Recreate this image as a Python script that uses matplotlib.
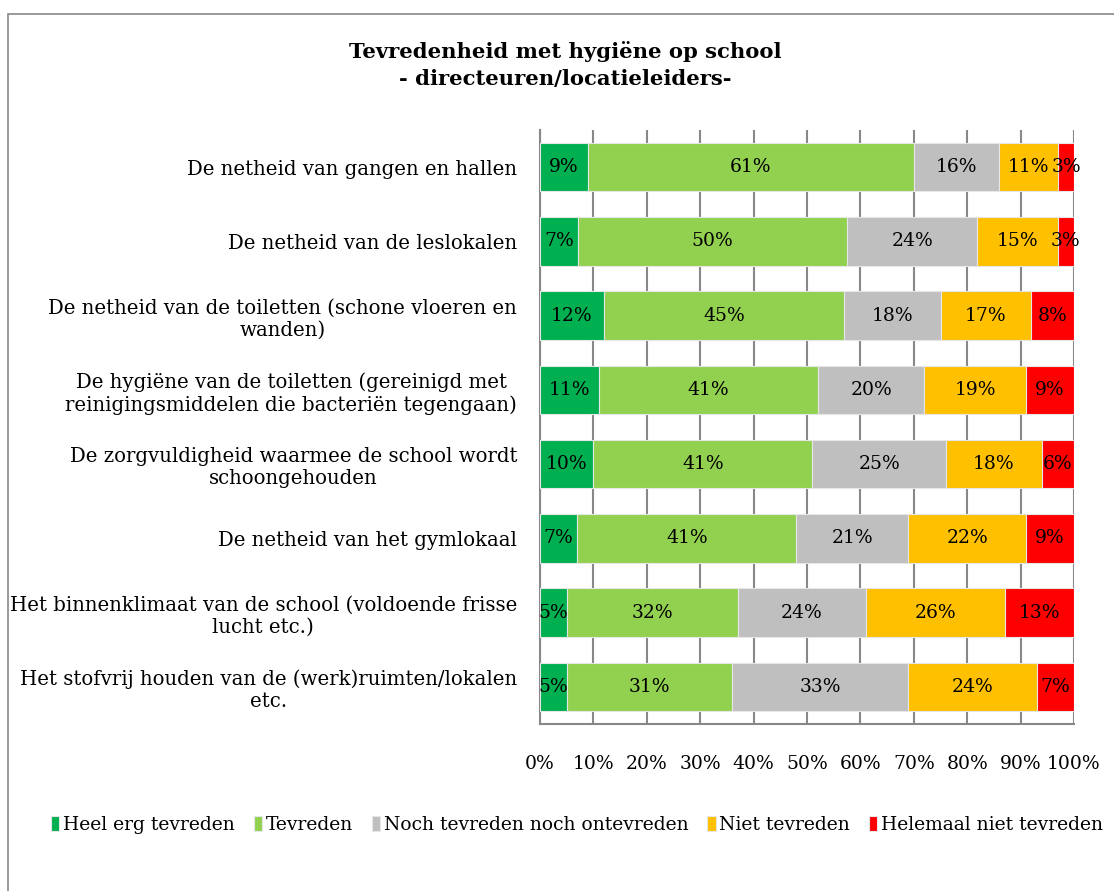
import matplotlib.pyplot as plt
from matplotlib.patches import Rectangle
import numpy as np

# --- data ---
categories = [
    "De netheid van gangen en hallen",
    "De netheid van de leslokalen",
    "De netheid van de toiletten (schone vloeren en\nwanden)",
    "De hygiëne van de toiletten (gereinigd met\nreinigingsmiddelen die bacteriën tegengaan)",
    "De zorgvuldigheid waarmee de school wordt\nschoongehouden",
    "De netheid van het gymlokaal",
    "Het binnenklimaat van de school (voldoende frisse\nlucht etc.)",
    "Het stofvrij houden van de (werk)ruimten/lokalen\netc.",
]
series_names = ["Heel erg tevreden", "Tevreden", "Noch tevreden noch ontevreden",
                "Niet tevreden", "Helemaal niet tevreden"]
heel_erg = [9, 7, 12, 11, 10, 7, 5, 5]
tevreden = [61, 50, 45, 41, 41, 41, 32, 31]
noch = [16, 24, 18, 20, 25, 21, 24, 33]
niet = [11, 15, 17, 19, 18, 22, 26, 24]
helemaal = [3, 3, 8, 9, 6, 9, 13, 7]
colors = ["#00B050", "#92D050", "#BFBFBF", "#FFC000", "#FF0000"]

FONT = "DejaVu Serif"
plt.rcParams['font.family'] = [FONT, 'Liberation Serif']
FS = 13.5

values = np.array([heel_erg, tevreden, noch, niet, helemaal], dtype=float)
shares = values / values.sum(axis=0) * 100

fig = plt.figure(figsize=(11.14, 8.91), dpi=100)
# chart area border (left / top visible)
fig.patches.append(Rectangle((8 / 1114, -0.05), 1.2, 0.05 + (891 - 14) / 891,
                             transform=fig.transFigure, fill=False,
                             edgecolor="#888888", linewidth=1.2))

ax = fig.add_axes([540 / 1114, (891 - 724) / 891, 534 / 1114, 594 / 891])
y = np.arange(len(categories))
left = np.zeros(len(categories))
for i, name in enumerate(series_names):
    bars = ax.barh(y, shares[i], left=left, height=0.65, color=colors[i],
                   edgecolor="#E6E6E6", linewidth=0.8, label=name, zorder=3)
    for j, b in enumerate(bars):
        ax.text(left[j] + shares[i][j] / 2, y[j], f"{int(values[i][j])}%",
                ha="center", va="center", fontsize=FS, color="black", zorder=4)
    left += shares[i]

ax.set_xlim(0, 100)
ax.set_ylim(len(categories) - 0.5, -0.5)
ax.set_yticks(y)
ax.set_yticklabels(categories, fontsize=14.2, multialignment="center", linespacing=1.2)
ax.set_xticks(np.arange(0, 101, 10))
ax.set_xticklabels([f"{t}%" for t in range(0, 101, 10)], fontsize=FS)
ax.tick_params(axis="y", length=0, pad=16.5)
ax.tick_params(axis="x", length=0, pad=22)
ax.xaxis.grid(True, color="#888888", linewidth=1.5, zorder=0)
ax.set_axisbelow(True)
for s in ["top", "right"]:
    ax.spines[s].set_visible(False)
for s in ["left", "bottom"]:
    ax.spines[s].set_color("#888888")
    ax.spines[s].set_linewidth(1.5)

fig.text(565 / 1114, 1 - 65 / 891,
         "Tevredenheid met hygiëne op school\n- directeuren/locatieleiders-",
         ha="center", va="center", fontsize=15.2, fontweight="bold", linespacing=1.4)

handles, labels = ax.get_legend_handles_labels()
fig.legend(handles, labels, loc="center", bbox_to_anchor=(577 / 1114, 1 - 825 / 891),
           ncol=5, frameon=False, fontsize=FS, handlelength=0.45, handleheight=0.8,
           handletextpad=0.2, columnspacing=1.0, borderaxespad=0)

fig.savefig("out.png", dpi=100)
